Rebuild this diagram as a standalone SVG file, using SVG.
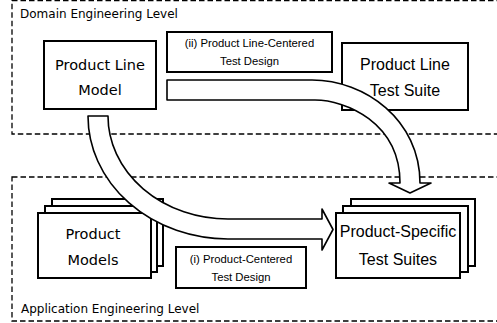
<svg xmlns="http://www.w3.org/2000/svg" width="497" height="323" viewBox="0 0 497 323">
<style>
.lvl{fill:none;stroke:#000;stroke-width:1.3;stroke-dasharray:5.5 3}
.box{fill:#fff;stroke:#000;stroke-width:2}
.arr{fill:#fff;stroke:#000;stroke-width:1.6;stroke-linejoin:round}
.t1{font-family:"DejaVu Sans",sans-serif;font-size:14.5px;fill:#000;text-anchor:middle}
.t2{font-family:"Liberation Sans",Arial,sans-serif;font-size:16px;fill:#000;text-anchor:middle}
.lab{font-family:"Liberation Sans",Arial,sans-serif;font-size:11.3px;fill:#000;text-anchor:middle}
.lvlt{font-family:"DejaVu Sans",sans-serif;font-size:12px;fill:#000}
</style>
<g id="domain-level">
<rect class="lvl" x="12" y="0.7" width="500" height="133.3"/>
<text class="lvlt" x="20" y="18">Domain Engineering Level</text>
</g>
<g id="application-level">
<rect class="lvl" x="12" y="177" width="500" height="144"/>
<text class="lvlt" x="21" y="312.5">Application Engineering Level</text>
</g>
<g id="product-line-model">
<rect class="box" x="44" y="41" width="112" height="68"/>
<text class="t1" x="100" y="69.5">Product Line</text>
<text class="t1" x="100" y="95">Model</text>
</g>
<g id="label-ii">
<rect class="box" x="167" y="32" width="165" height="40"/>
<text class="lab" x="249.5" y="47">(ii) Product Line-Centered</text>
<text class="lab" x="249.5" y="64.5">Test Design</text>
</g>
<g id="product-line-test-suite">
<rect class="box" x="342" y="43" width="126" height="67"/>
<text class="t2" x="405" y="70">Product Line</text>
<text class="t2" x="405" y="96">Test Suite</text>
</g>
<g id="product-models">
<rect class="box" x="52" y="199" width="111" height="67"/>
<rect class="box" x="45" y="206" width="112" height="66"/>
<rect class="box" x="38" y="213" width="113" height="65"/>
<text class="t1" x="93" y="239">Product</text>
<text class="t1" x="93" y="265">Models</text>
</g>
<g id="label-i">
<rect class="box" x="176" y="247" width="130" height="41"/>
<text class="lab" x="241" y="263">(i) Product-Centered</text>
<text class="lab" x="241" y="281">Test Design</text>
</g>
<g id="product-specific-test-suites">
<rect class="box" x="351" y="199" width="124" height="67"/>
<rect class="box" x="343" y="206" width="125" height="66"/>
<rect class="box" x="336" y="213" width="124" height="65"/>
<text class="t2" x="398" y="237">Product-Specific</text>
<text class="t2" x="398" y="265">Test Suites</text>
</g>
<g id="connectors">
<path class="arr" d="M167,80 H312 C365,80 420,120 420,183 H431 L410,193 L389,183 H400 C400,122 345,100 315,100 H167 Z"/>
<path class="arr" d="M88,116 H108 A120,103 0 0 0 228,219 H322 V209 L333,229.5 L322,250 V239 H228 A140,123 0 0 1 88,116 Z"/>
</g>
</svg>
